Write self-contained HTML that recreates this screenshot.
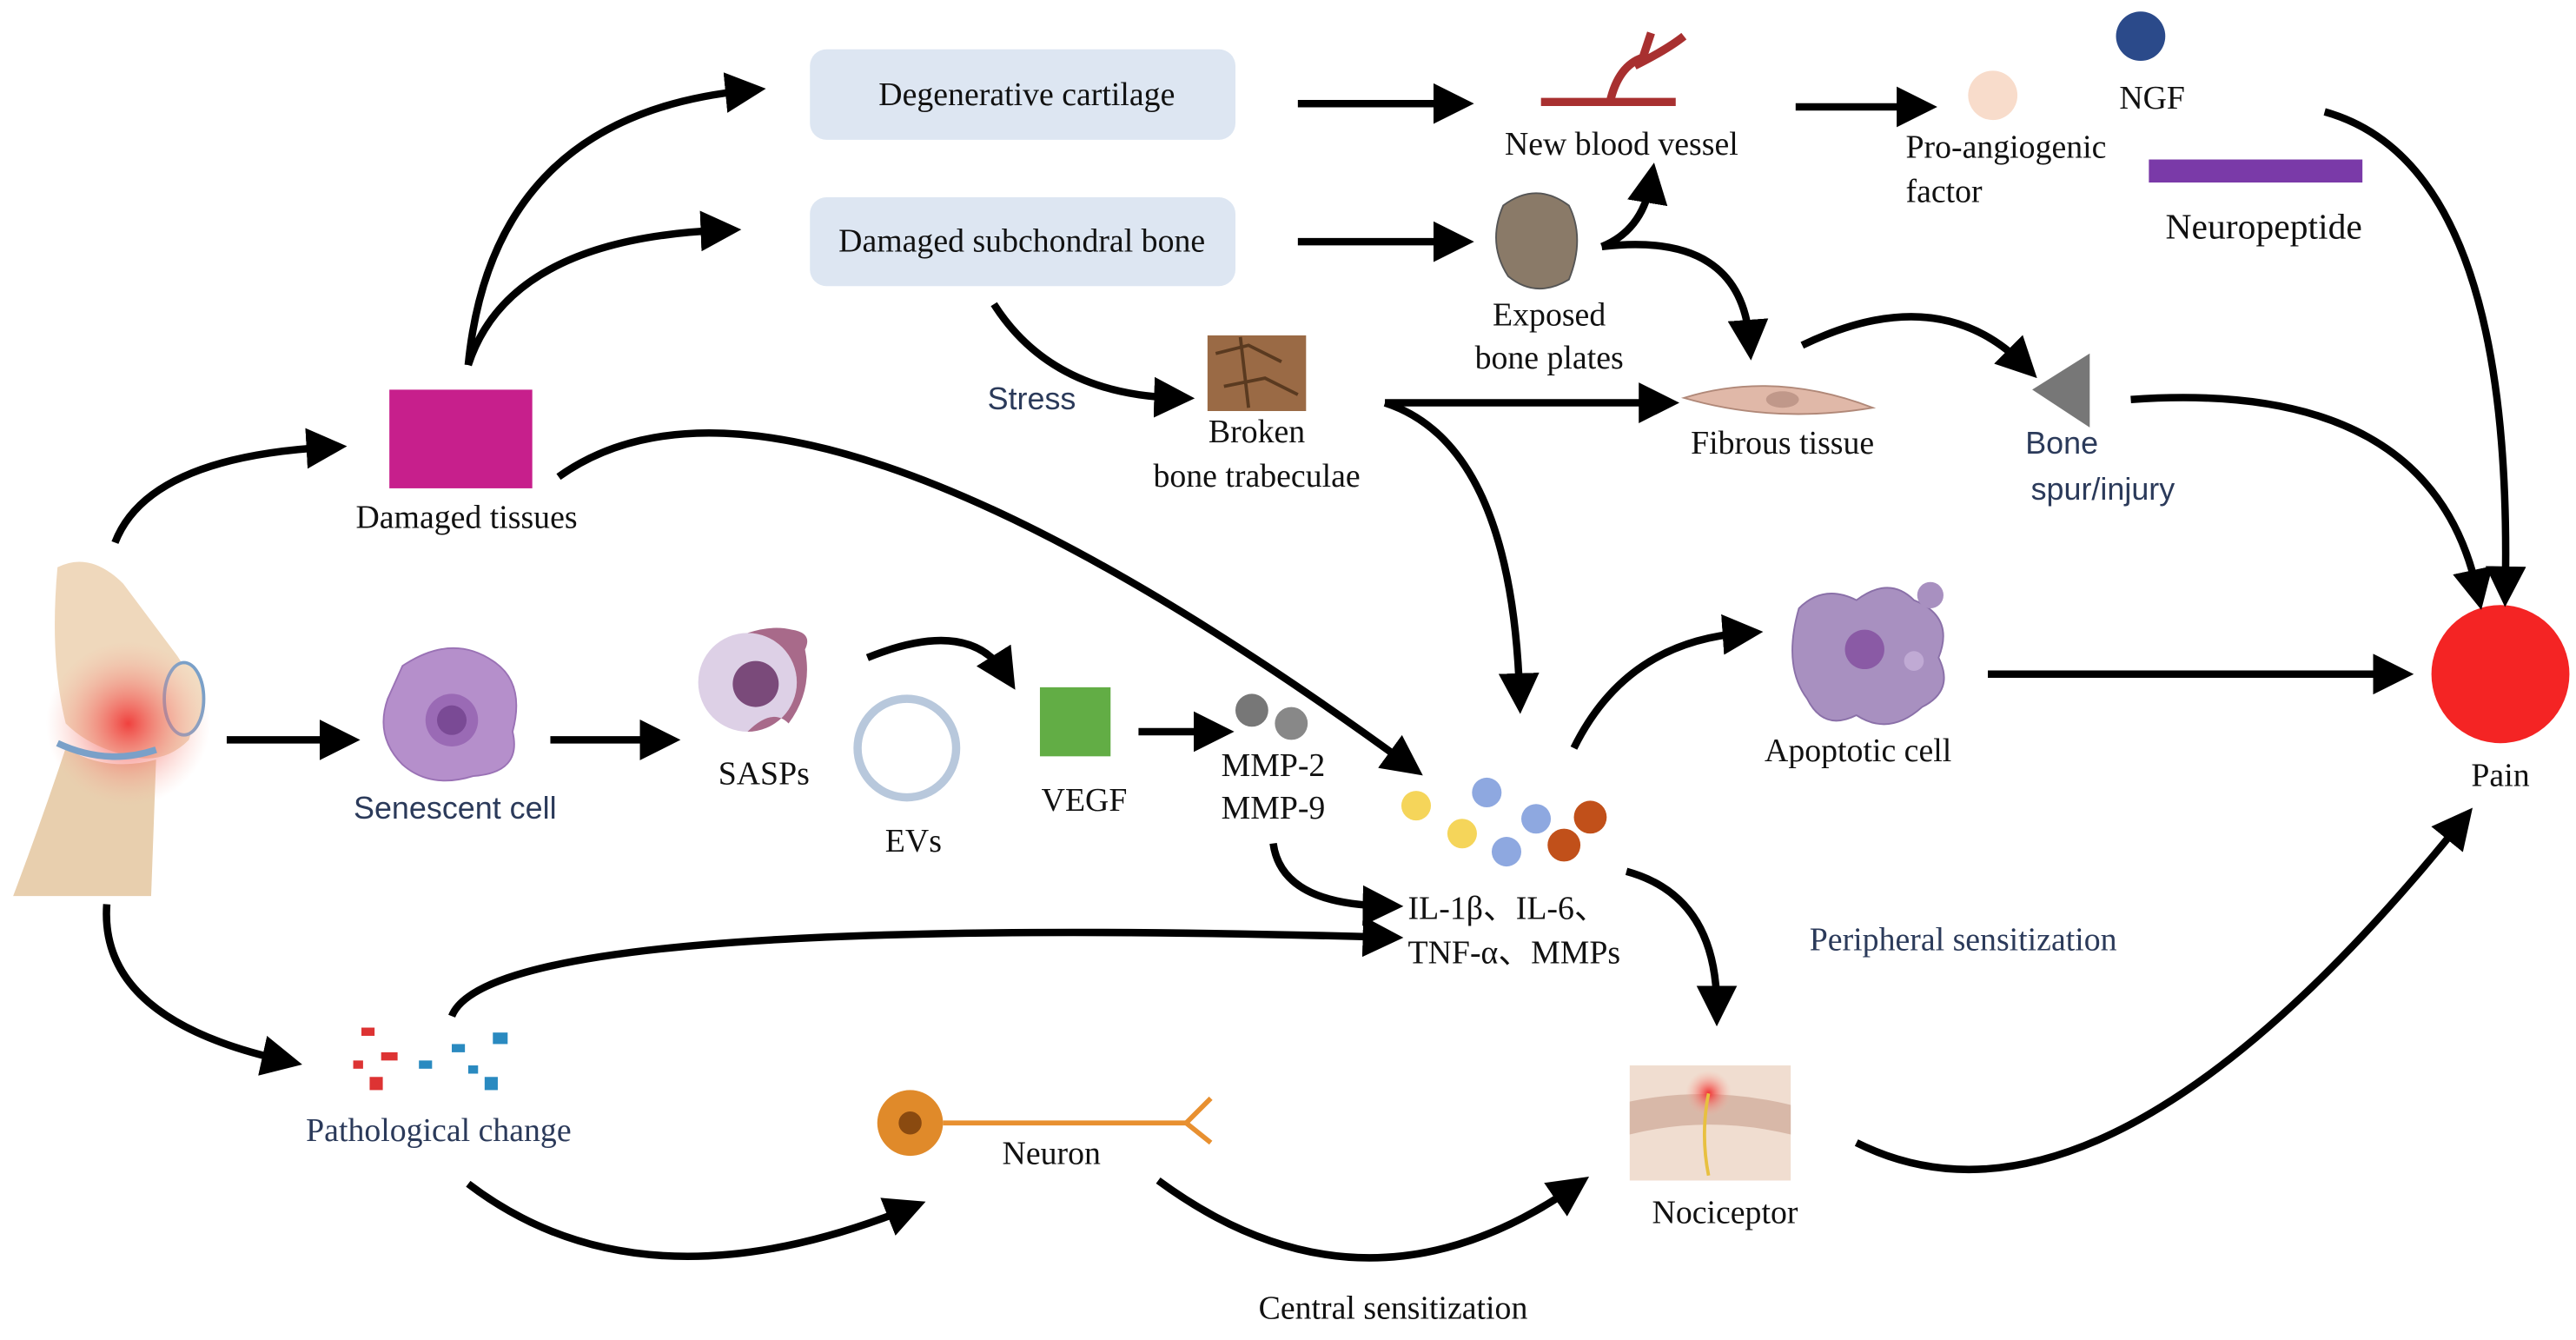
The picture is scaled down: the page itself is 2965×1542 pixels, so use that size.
<!DOCTYPE html>
<html><head><meta charset="utf-8"><style>
html,body{margin:0;padding:0;background:#fff;width:2965px;height:1542px;overflow:hidden}
svg{display:block}
text{font-family:"Liberation Serif",serif;font-size:20px;fill:#111}
.b{fill:#2b3a5a;font-family:"Liberation Sans",sans-serif;font-size:19px}
.a{fill:none;stroke:#000;stroke-width:4.5;marker-end:url(#ar)}
</style></head><body>
<svg width="2965" height="1542" viewBox="0 0 1568 815" preserveAspectRatio="none">
<defs>
<marker id="ar" markerWidth="5.5" markerHeight="5.5" refX="3" refY="2.75" orient="auto" markerUnits="strokeWidth"><path d="M0,0 L5.5,2.75 L0,5.5 z" fill="#000"/></marker>
<radialGradient id="glow"><stop offset="0" stop-color="#f03030"/><stop offset="1" stop-color="#f8b0a0" stop-opacity="0"/></radialGradient>
</defs>

<rect x="493" y="30" width="259" height="55" rx="10" fill="#dde6f2"/>
<text x="625" y="64" text-anchor="middle">Degenerative cartilage</text>
<rect x="493" y="120" width="259" height="54" rx="10" fill="#dde6f2"/>
<text x="622" y="153" text-anchor="middle">Damaged subchondral bone</text>

<rect x="237" y="237" width="87" height="60" fill="#c71f8c"/>
<text x="284" y="321" text-anchor="middle">Damaged tissues</text>

<!-- knee -->
<path d="M35,345 Q55,335 75,355 L105,395 Q125,420 115,450 Q100,465 80,460 Q55,455 40,440 Q30,400 35,345 z" fill="#efd8bc"/>
<path d="M40,455 Q65,470 95,462 L92,545 L8,545 Q25,500 40,455 z" fill="#e8cfae"/>
<ellipse cx="112" cy="425" rx="12" ry="22" fill="#f2dcc2" stroke="#7aa0c8" stroke-width="2"/>
<circle cx="78" cy="440" r="50" fill="url(#glow)" opacity="0.9"/>
<path d="M35,452 Q65,466 95,456" stroke="#7aa0c8" stroke-width="4" fill="none"/>

<path d="M245,405 Q275,385 300,402 Q320,415 312,445 Q318,470 288,472 Q262,480 245,465 Q228,448 236,425 z" fill="#b58fcb" stroke="#9a72b5"/>
<circle cx="275" cy="438" r="16" fill="#9a6ab5"/><circle cx="275" cy="438" r="9" fill="#7a4a95"/>
<text class="b" x="277" y="498" text-anchor="middle">Senescent cell</text>

<circle cx="455" cy="415" r="30" fill="#ddd0e6"/>
<path d="M455,385 A30,30 0 0 1 455,445 Q470,430 480,440 Q495,420 490,395 Q495,385 482,383 Q470,380 455,385z" fill="#a86a8a"/>
<circle cx="460" cy="416" r="14" fill="#7a4a7a"/>
<text x="465" y="477" text-anchor="middle">SASPs</text>

<circle cx="552" cy="455" r="30" fill="none" stroke="#b8c8dc" stroke-width="5"/>
<text x="556" y="518" text-anchor="middle">EVs</text>

<rect x="633" y="418" width="43" height="42" fill="#62ad45"/>
<text x="660" y="493" text-anchor="middle">VEGF</text>

<circle cx="762" cy="432" r="10" fill="#777"/><circle cx="786" cy="440" r="10" fill="#888"/>
<text x="775" y="472" text-anchor="middle">MMP-2</text>
<text x="775" y="498" text-anchor="middle">MMP-9</text>

<circle cx="862" cy="490" r="9" fill="#f5d55a"/><circle cx="890" cy="507" r="9" fill="#f5d55a"/>
<circle cx="905" cy="482" r="9" fill="#8ea8e0"/><circle cx="935" cy="498" r="9" fill="#8ea8e0"/>
<circle cx="917" cy="518" r="9" fill="#8ea8e0"/><circle cx="952" cy="514" r="10" fill="#c1501a"/>
<circle cx="968" cy="497" r="10" fill="#c1501a"/>
<text x="857" y="559">IL-1β、IL-6、</text>
<text x="857" y="586">TNF-α、MMPs</text>

<path d="M938,62 L1020,62 M980,62 Q985,40 1000,35 L1005,20 M995,40 Q1015,30 1025,22" stroke="#a83030" stroke-width="5" fill="none"/>
<text x="987" y="94" text-anchor="middle">New blood vessel</text>

<circle cx="1213" cy="58" r="15" fill="#f8dccb"/>
<text x="1160" y="96">Pro-angiogenic</text><text x="1160" y="123">factor</text>
<circle cx="1303" cy="22" r="15" fill="#2b4a8a"/>
<text x="1310" y="66" text-anchor="middle">NGF</text>
<rect x="1308" y="97" width="130" height="14" fill="#7a3aa8"/>
<text x="1378" y="145" text-anchor="middle" style="font-size:22px">Neuropeptide</text>

<path d="M915,125 Q935,110 955,125 Q965,145 955,170 Q935,182 918,168 Q905,148 915,125z" fill="#8a7a68" stroke="#555"/>
<text x="943" y="198" text-anchor="middle">Exposed</text><text x="943" y="224" text-anchor="middle">bone plates</text>

<rect x="735" y="204" width="60" height="46" fill="#9a6a45"/>
<path d="M740,215 L760,210 L780,220 M745,235 L770,230 L790,240 M755,205 L760,248" stroke="#5a3a20" stroke-width="2" fill="none"/>
<text x="765" y="269" text-anchor="middle">Broken</text><text x="765" y="296" text-anchor="middle">bone trabeculae</text>
<text class="b" x="628" y="249" text-anchor="middle">Stress</text>

<path d="M1025,242 Q1080,225 1140,248 Q1080,258 1025,242z" fill="#e0b8a8" stroke="#b08878"/>
<ellipse cx="1085" cy="243" rx="10" ry="5" fill="#c0988a"/>
<text x="1085" y="276" text-anchor="middle">Fibrous tissue</text>

<polygon points="1237,237 1272,215 1272,260" fill="#777"/>
<text class="b" x="1255" y="276" text-anchor="middle">Bone</text>
<text class="b" x="1280" y="304" text-anchor="middle">spur/injury</text>

<path d="M1095,370 Q1110,355 1130,365 Q1150,350 1165,365 Q1190,375 1180,400 Q1190,420 1170,430 Q1150,448 1130,435 Q1110,445 1100,425 Q1085,405 1095,370z" fill="#a890c0" stroke="#8a70a8"/>
<circle cx="1135" cy="395" r="12" fill="#8a5aa5"/>
<circle cx="1175" cy="362" r="8" fill="#a890c0"/><circle cx="1165" cy="402" r="6" fill="#c0aad4"/>
<text x="1131" y="463" text-anchor="middle">Apoptotic cell</text>

<circle cx="1522" cy="410" r="42" fill="#f42424"/>
<text x="1522" y="478" text-anchor="middle">Pain</text>
<text x="1195" y="578" text-anchor="middle" style="fill:#2b3a5a">Peripheral sensitization</text>

<g fill="#d33"><rect x="220" y="625" width="8" height="5"/><rect x="232" y="640" width="10" height="5"/><rect x="225" y="655" width="8" height="8"/><rect x="215" y="645" width="6" height="5"/></g>
<g fill="#2a8ac0"><rect x="255" y="645" width="8" height="5"/><rect x="275" y="635" width="8" height="5"/><rect x="300" y="628" width="9" height="7"/><rect x="295" y="655" width="8" height="8"/><rect x="285" y="648" width="6" height="5"/></g>
<text x="267" y="694" text-anchor="middle" style="fill:#2b3a5a">Pathological change</text>

<line x1="574" y1="683" x2="722" y2="683" stroke="#e89030" stroke-width="3"/>
<path d="M722,683 L737,668 M722,683 L737,695" stroke="#e89030" stroke-width="3"/>
<circle cx="554" cy="683" r="20" fill="#e08a2a"/><circle cx="554" cy="683" r="7" fill="#8a4a10"/>
<text x="640" y="708" text-anchor="middle">Neuron</text>

<rect x="992" y="648" width="98" height="70" fill="#f0ddd0"/>
<path d="M992,670 Q1040,660 1090,672 L1090,690 Q1040,678 992,690z" fill="#d8b8a8"/>
<circle cx="1040" cy="665" r="14" fill="url(#glow)"/>
<path d="M1040,665 Q1035,690 1040,715" stroke="#e8c040" stroke-width="2" fill="none"/>
<text x="1050" y="744" text-anchor="middle">Nociceptor</text>
<text x="848" y="802" text-anchor="middle">Central sensitization</text>

<path class="a" d="M70,330 Q90,278 200,272"/>
<path class="a" d="M285,222 Q300,70 455,55"/>
<path class="a" d="M285,222 Q310,145 440,140"/>
<path class="a" d="M340,290 Q480,190 857,465"/>
<path class="a" d="M790,63 L886,63"/>
<path class="a" d="M790,147 L886,147"/>
<path class="a" d="M605,185 Q640,240 716,242"/>
<path class="a" d="M975,150 Q1000,140 1005,110"/>
<path class="a" d="M975,150 Q1060,140 1065,208"/>
<path class="a" d="M1093,65 L1168,65"/>
<path class="a" d="M1097,210 Q1180,170 1232,222"/>
<path class="a" d="M1415,68 Q1530,100 1525,358"/>
<path class="a" d="M1297,243 Q1480,230 1508,360"/>
<path class="a" d="M843,245 L1011,245"/>
<path class="a" d="M843,245 Q920,270 925,423"/>
<path class="a" d="M138,450 L208,450"/>
<path class="a" d="M335,450 L403,450"/>
<path class="a" d="M528,400 Q590,375 612,410"/>
<path class="a" d="M693,445 L740,445"/>
<path class="a" d="M775,513 Q780,550 843,551"/>
<path class="a" d="M958,455 Q990,390 1062,385"/>
<path class="a" d="M1210,410 L1458,410"/>
<path class="a" d="M990,530 Q1045,545 1045,613"/>
<path class="a" d="M65,550 Q60,620 173,645"/>
<path class="a" d="M275,618 Q300,555 843,570"/>
<path class="a" d="M285,720 Q390,800 553,735"/>
<path class="a" d="M705,718 Q830,810 958,722"/>
<path class="a" d="M1130,695 Q1280,770 1498,500"/>
</svg>
</body></html>
